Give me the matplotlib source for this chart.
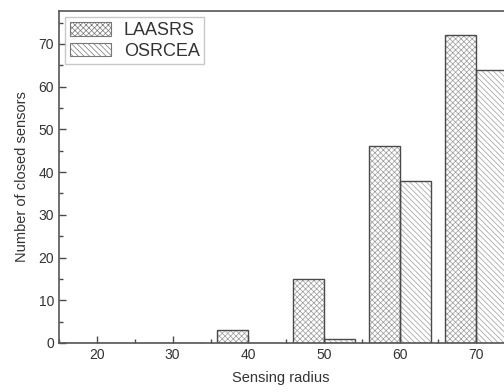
import matplotlib
matplotlib.use("Agg")
import matplotlib.pyplot as plt
import numpy as np
from matplotlib.patches import Patch
from matplotlib.ticker import MultipleLocator

# Données
radius = [20, 30, 40, 50, 60, 70]
laasrs = [0, 0, 3, 15, 46, 72]
osrcea = [0, 0, 0, 1, 38, 64]

plt.rcParams['font.family'] = ['Liberation Sans', 'DejaVu Sans']
plt.rcParams['hatch.linewidth'] = 0.5

edge = '#4a4a4a'
hatch_col = '#9a9a9a'
w = 4.1
h_laa = 'xxxxxx'
h_osr = '\\\\\\\\\\\\'

fig = plt.figure(figsize=(5.04, 3.92), dpi=100)
# l'axe déborde à droite : la figure d'origine est rognée
ax = fig.add_axes([0.117, 0.125, 0.902, 0.847])

x = np.array(radius, dtype=float)
# hachures puis contours
ax.bar(x - w / 2, laasrs, w, color='white', edgecolor=hatch_col, hatch=h_laa, linewidth=0)
ax.bar(x + w / 2, osrcea, w, color='white', edgecolor=hatch_col, hatch=h_osr, linewidth=0)
ax.bar(x - w / 2, laasrs, w, facecolor='none', edgecolor=edge, linewidth=1.0)
ax.bar(x + w / 2, osrcea, w, facecolor='none', edgecolor=edge, linewidth=1.0)

ax.set_xlim(15, 75)
ax.set_ylim(0, 77.7)
ax.xaxis.set_major_locator(MultipleLocator(10))
ax.xaxis.set_minor_locator(MultipleLocator(5))
ax.yaxis.set_major_locator(MultipleLocator(10))
ax.yaxis.set_minor_locator(MultipleLocator(5))
ax.tick_params(which='both', direction='in', colors=edge, labelcolor='#333333', labelsize=10)
ax.tick_params(which='major', length=5, width=1.0)
ax.tick_params(which='minor', length=3, width=1.0)
for s in ax.spines.values():
    s.set_color('#555555')
    s.set_linewidth(1.2)

ax.set_xlabel('Sensing radius', fontsize=10.5, color='#333333')
ax.xaxis.set_label_coords(0.488, -0.085)
ax.set_ylabel('Number of closed sensors', fontsize=10.5, color='#333333', labelpad=7)

handles = [
    Patch(facecolor='white', edgecolor='#777777', hatch=h_laa, linewidth=0.8),
    Patch(facecolor='white', edgecolor='#777777', hatch=h_osr, linewidth=0.8),
]
leg = ax.legend(handles, ['LAASRS', 'OSRCEA'], loc='upper left', bbox_to_anchor=(0.0, 1.0),
                fontsize=13, frameon=True, fancybox=False, edgecolor='#bbbbbb',
                handlelength=2.3, handleheight=0.8, borderpad=0.25, labelspacing=0.2,
                handletextpad=0.7, borderaxespad=0.35)
for t in leg.get_texts():
    t.set_color('#333333')

fig.savefig('out.png', dpi=100)
